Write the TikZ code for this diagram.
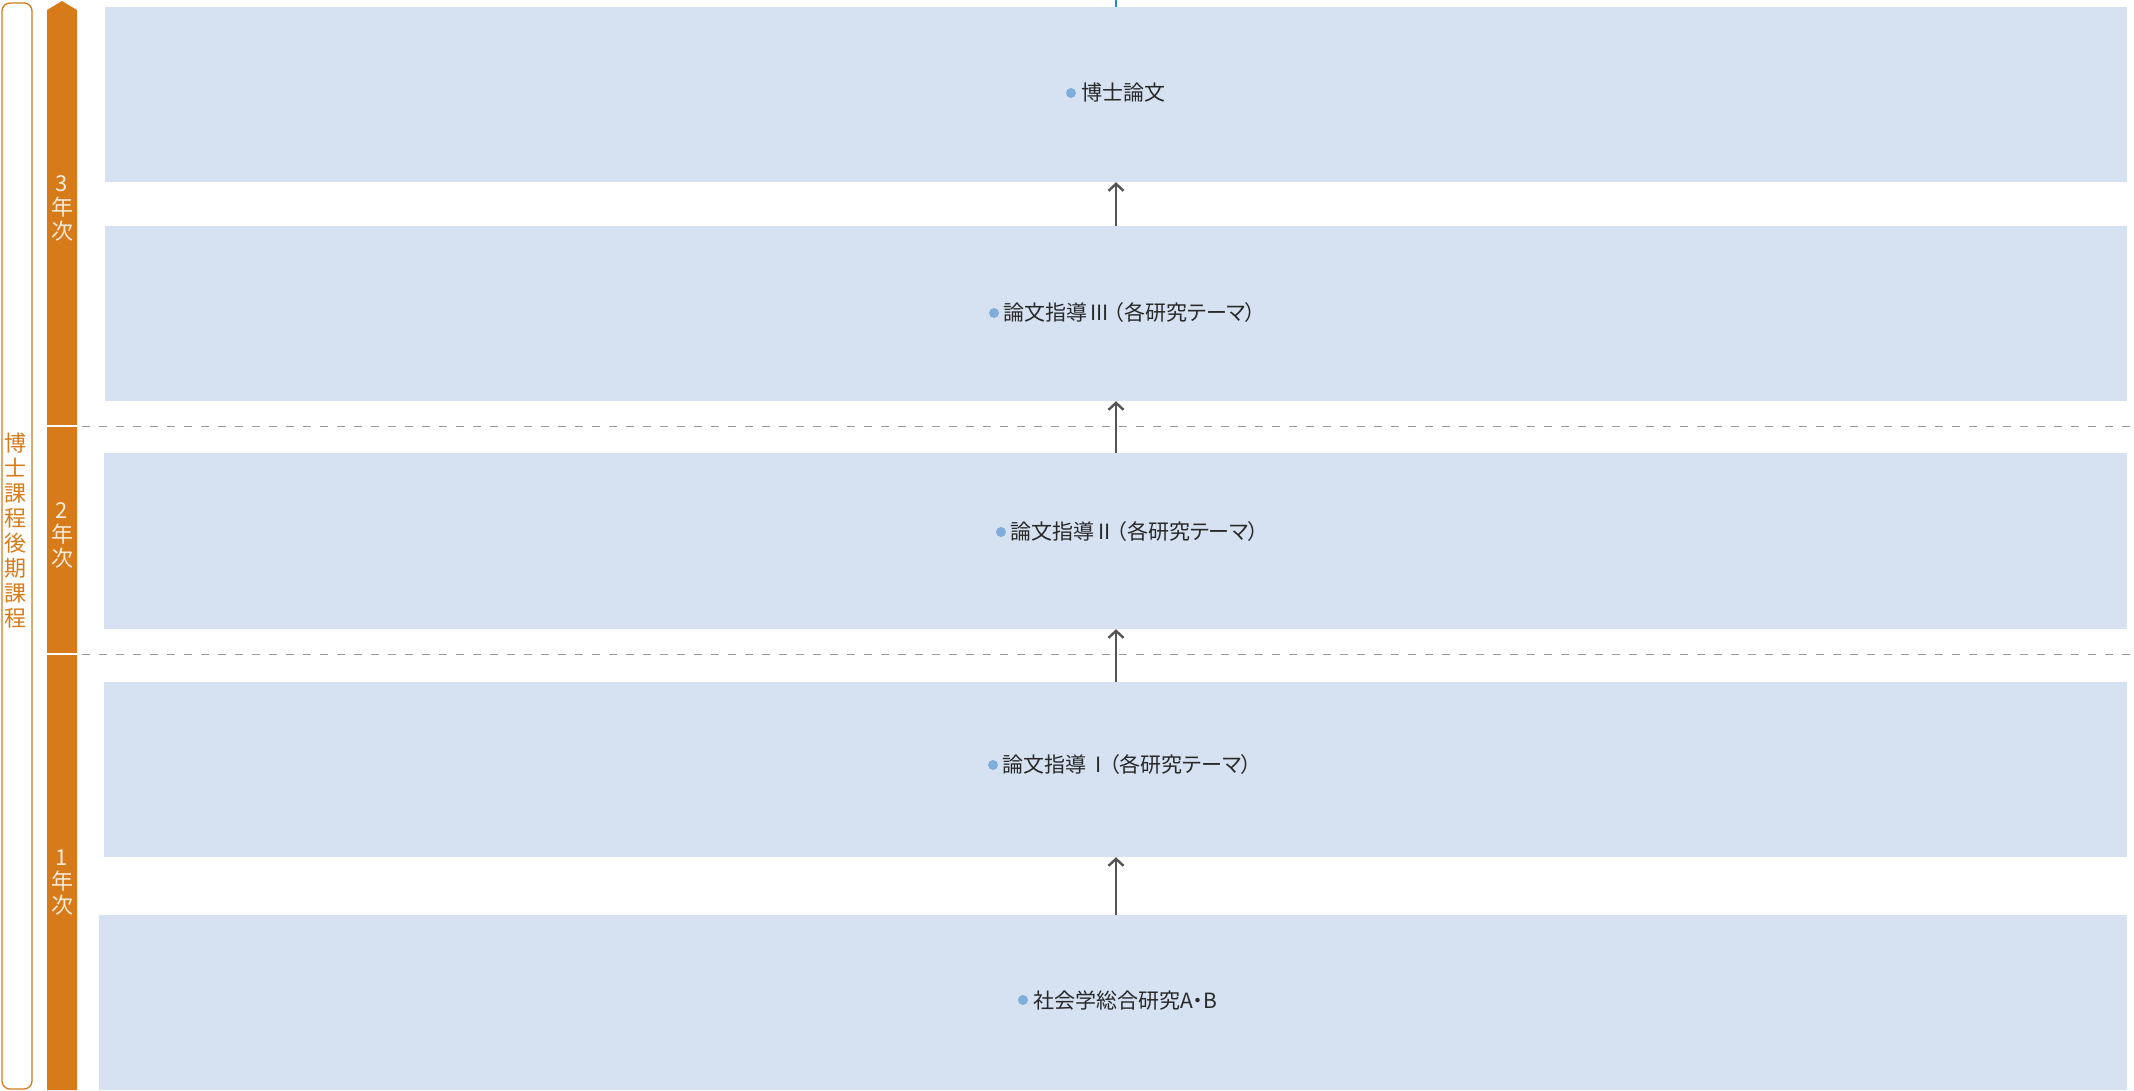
\documentclass[tikz,border=0pt]{standalone}
\usepackage{fontspec}
\setmainfont{Noto Sans CJK JP}[RawFeature=+palt]
\usetikzlibrary{arrows.meta}
\definecolor{orng}{RGB}{214,122,26}
\definecolor{boxblue}{RGB}{214,226,242}
\definecolor{dotblue}{RGB}{128,174,219}
\definecolor{txt}{RGB}{40,40,40}
\definecolor{arrgray}{RGB}{85,85,85}
\definecolor{linkblue}{RGB}{30,140,210}
\definecolor{cream}{RGB}{250,236,220}
\tikzset{
  stagebox/.style={fill=boxblue, draw=none, inner sep=0pt, minimum width=2022pt},
  lbl/.style={text=txt, inner sep=0pt, anchor=west, font=\fontsize{21}{25}\selectfont},
  bulletdot/.style={circle, fill=dotblue, draw=none, inner sep=0pt, minimum size=10pt},
  uparrow/.style={draw=arrgray, line width=2.4pt, -{Straight Barb[length=7pt,width=15pt]}},
  yearsep/.style={draw=gray!80, line width=1pt, dash pattern=on 8pt off 9pt},
  yearlbl/.style={text=cream, align=center, inner sep=0pt, font=\fontsize{22}{24}\selectfont},
}
\begin{document}
\begin{tikzpicture}[x=1pt,y=-1pt]
\useasboundingbox (0,0) rectangle (2134,1090);
% outer rounded frame
\node[draw=orng, line width=1.3pt, rounded corners=8pt, inner sep=0pt,
      minimum width=30pt, minimum height=1086pt] (frame) at (17,546) {};
\node[text=orng, align=center, inner sep=0pt, font=\fontsize{22}{25}\selectfont] (course) at (16,531)
  {博\\士\\課\\程\\後\\期\\課\\程};
% orange year bar
\fill[orng] (47,1090) -- (47,10) -- (62,1) -- (77,10) -- (77,1090) -- cycle;
\coordinate (s1a) at (47,426); \coordinate (s1b) at (77,426);
\coordinate (s2a) at (47,654); \coordinate (s2b) at (77,654);
\draw[white, line width=2pt] (s1a) -- (s1b);
\draw[white, line width=2pt] (s2a) -- (s2b);
\node[yearlbl] (y3) at (62,208) {3\\年\\次};
\node[yearlbl] (y2) at (62,535) {2\\年\\次};
\node[yearlbl] (y1) at (62,883) {1\\年\\次};
% dashed year separators
\coordinate (d1a) at (82,426); \coordinate (d1b) at (2134,426);
\coordinate (d2a) at (82,654); \coordinate (d2b) at (2134,654);
\draw[yearsep] (d1a) -- (d1b);
\draw[yearsep] (d2a) -- (d2b);
% stage boxes
\node[stagebox, minimum height=175pt] (b1) at (1116,94.5) {};
\node[stagebox, minimum height=175pt] (b2) at (1116,313.5) {};
\node[stagebox, minimum height=176pt, minimum width=2023pt] (b3) at (1115.5,541) {};
\node[stagebox, minimum height=175pt, minimum width=2023pt] (b4) at (1115.5,769.5) {};
\node[stagebox, minimum height=175pt, minimum width=2028pt] (b5) at (1113,1002.5) {};
% labels
\node[bulletdot] (p1) at (1071,93) {};
\node[lbl] (t1) at (1081,93) {博士論文};
\node[bulletdot] (p2) at (994,313) {};
\node[lbl] (t2) at (1003,313) {論文指導\hspace{3pt}III\hspace{5pt}（各研究テーマ）};
\node[bulletdot] (p3) at (1001,532) {};
\node[lbl] (t3) at (1010,532) {論文指導\hspace{4pt}II\hspace{6pt}（各研究テーマ）};
\node[bulletdot] (p4) at (993,765) {};
\node[lbl] (t4) at (1002,765) {論文指導\hspace{9pt}I\hspace{8pt}（各研究テーマ）};
\node[bulletdot] (p5) at (1023,1000) {};
\node[lbl] (t5) at (1033,1000) {社会学総合研究A・B};
% arrows
\coordinate (ax) at (1116,0);
\draw[linkblue, line width=2.5pt] (ax) -- (b1.north -| ax);
\draw[uparrow] (b2.north -| ax) -- (b1.south -| ax);
\draw[uparrow] (b3.north -| ax) -- (b2.south -| ax);
\draw[uparrow] (b4.north -| ax) -- (b3.south -| ax);
\draw[uparrow] (b5.north -| ax) -- (b4.south -| ax);
\end{tikzpicture}
\end{document}
